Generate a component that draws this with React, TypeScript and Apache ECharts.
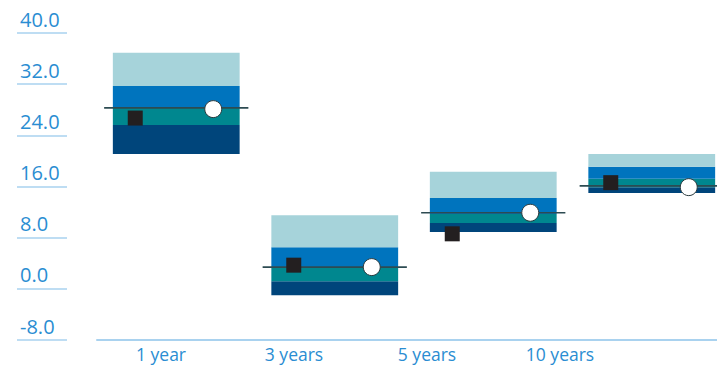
import React, { useEffect, useRef } from "react";
import * as echarts from "echarts";

const categories = ["1 year", "3 years", "5 years", "10 years"];
const bandBottom = [21.1, -1.0, 8.9, 15.0];
const q1Top = [25.6, 1.2, 10.3, 15.9];
const medianTop = [28.4, 3.3, 11.7, 17.2];
const q3Top = [31.7, 6.5, 14.2, 19.1];
const bandTop = [36.9, 11.5, 18.3, 21.1];
const medianLine = [28.3, 3.4, 11.9, 16.1];
const fund = [26.7, 3.7, 8.6, 16.6];
const benchmark = [28.1, 3.4, 11.9, 15.9];

const FONT = "Open Sans";
const TEXT_BLUE = "#2a8dd2";
const LINE_BLUE = "#a9d2ef";

function bandSeries(name: string, lows: number[], highs: number[], color: string) {
  return {
    name,
    type: "custom",
    xAxisIndex: 0,
    yAxisIndex: 0,
    encode: { x: 0, y: [1, 2] },
    data: lows.map((lo, i) => [i, lo, highs[i]]),
    renderItem: (params: any, api: any) => {
      const x = api.value(0);
      const lo = api.coord([x, api.value(1)]);
      const hi = api.coord([x, api.value(2)]);
      const w = api.size([1, 0])[0] * 0.8;
      return {
        type: "rect",
        shape: { x: lo[0] - w / 2, y: hi[1], width: w, height: lo[1] - hi[1] },
        style: { fill: color },
      };
    },
    z: 2,
  };
}

export default function App() {
  const ref = useRef<HTMLDivElement>(null);
  useEffect(() => {
    document.body.style.margin = "0";
    const chart = echarts.init(ref.current!, null, { renderer: "svg" });
    chart.setOption({
      animation: false,
      grid: [
        { left: 97, right: -14, top: 33, bottom: 28, containLabel: false, outerBoundsMode: "none" },
        { left: 94.5, right: 90.5, top: 33, bottom: 28, containLabel: false, outerBoundsMode: "none" },
      ],
      xAxis: [
        {
          type: "category",
          gridIndex: 0,
          data: categories,
          axisLine: { show: true, onZero: false, lineStyle: { color: LINE_BLUE, width: 2 } },
          axisTick: { show: false },
          axisLabel: { show: false },
          splitLine: { show: false },
        },
        {
          type: "category",
          gridIndex: 1,
          data: categories,
          axisLine: { show: false, onZero: false },
          axisTick: { show: false },
          axisLabel: {
            color: TEXT_BLUE,
            fontFamily: FONT,
            fontSize: 17.5,
            margin: 5,
          },
          splitLine: { show: false },
        },
      ],
      yAxis: [
        {
          type: "value",
          gridIndex: 0,
          min: -8,
          max: 40,
          interval: 8,
          offset: 30,
          axisLine: { show: false },
          axisTick: { show: true, length: 50, lineStyle: { color: LINE_BLUE, width: 1.5 } },
          axisLabel: {
            color: TEXT_BLUE,
            fontFamily: FONT,
            fontSize: 20,
            align: "left",
            verticalAlign: "bottom",
            margin: 47,
            padding: [0, 0, 4, 0],
            formatter: (v: number) => v.toFixed(1),
          },
          splitLine: { show: false },
        },
        {
          type: "value",
          gridIndex: 1,
          min: -8,
          max: 40,
          show: false,
        },
      ],
      series: [
        bandSeries("Bottom quartile", bandBottom, q1Top, "#00457b"),
        bandSeries("Third quartile", q1Top, medianTop, "#00878f"),
        bandSeries("Second quartile", medianTop, q3Top, "#0074be"),
        bandSeries("Top quartile", q3Top, bandTop, "#a6d3da"),
        {
          name: "Median",
          type: "custom",
          xAxisIndex: 0,
          yAxisIndex: 0,
          encode: { x: 0, y: 1 },
          data: medianLine.map((v, i) => [i, v]),
          renderItem: (params: any, api: any) => {
            const x = api.value(0);
            const p = api.coord([x, api.value(1)]);
            const w = api.size([1, 0])[0] * 0.91;
            return {
              type: "line",
              shape: { x1: p[0] - w / 2, y1: p[1], x2: p[0] + w / 2, y2: p[1] },
              style: { stroke: "#2d4b52", lineWidth: 1.6 },
            };
          },
          z: 3,
        },
        {
          name: "Fund",
          type: "scatter",
          xAxisIndex: 0,
          yAxisIndex: 0,
          data: fund.map((v, i) => [i, v]),
          symbol: "rect",
          symbolSize: 15,
          symbolOffset: [-41, 0],
          itemStyle: { color: "#231f20", opacity: 1 },
          z: 4,
        },
        {
          name: "Index",
          type: "scatter",
          xAxisIndex: 0,
          yAxisIndex: 0,
          data: benchmark.map((v, i) => [i, v]),
          symbol: "circle",
          symbolSize: 17,
          symbolOffset: [37, 0],
          itemStyle: { color: "#ffffff", borderColor: "#2a3a3e", borderWidth: 1, opacity: 1 },
          z: 5,
        },
      ],
    });
    return () => chart.dispose();
  }, []);
  return <div ref={ref} style={{ width: 717, height: 368 }} />;
}
